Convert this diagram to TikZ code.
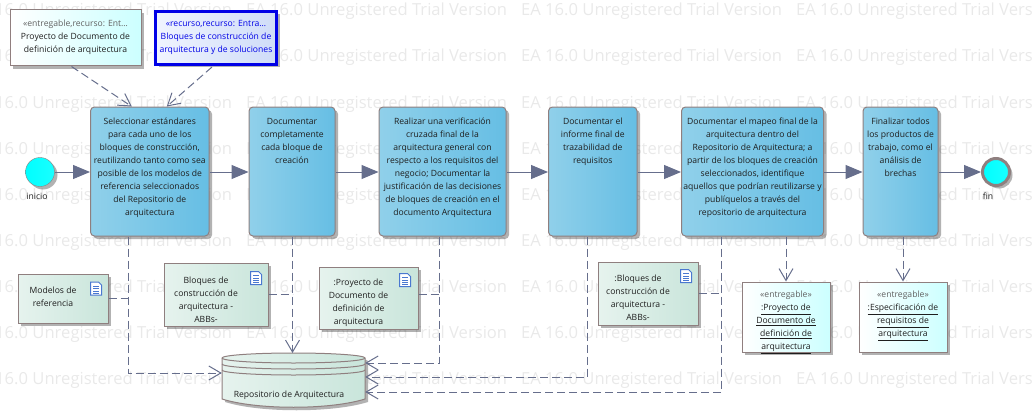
\documentclass[tikz,border=0pt]{standalone}
\usepackage{fontspec}
\setmainfont{Open Sans}
\usepackage{tikz}
\usetikzlibrary{shadows,arrows.meta,calc}
\definecolor{linecol}{HTML}{666E8C}
\definecolor{edgecol}{HTML}{8F7F7F}
\definecolor{wmcol}{HTML}{E9E9E9}
\definecolor{txtcol}{HTML}{1E1E1E}
\definecolor{actl}{HTML}{90D0EA}
\definecolor{actr}{HTML}{66BEE4}
\definecolor{notel}{HTML}{E6F3EE}
\definecolor{noter}{HTML}{C9E5DB}
\definecolor{resl}{HTML}{F0F4FE}
\definecolor{resr}{HTML}{CFDCF8}
\definecolor{resb}{HTML}{0000E6}
\definecolor{delr}{HTML}{CCFFFF}
\definecolor{iconcol}{HTML}{4A78D0}
\newcommand{\boxtxt}[4]{\parbox[c][#2pt][t]{#1pt}{\centering\fontsize{8.6}{13}\selectfont\vspace*{#3pt}#4\par}}
\newcommand{\nl}{\\\hspace*{-20pt}}
\tikzset{
shad/.style={drop shadow={shadow xshift=3pt,shadow yshift=-3pt,opacity=.3,fill=black}},
boxbase/.style={draw=edgecol, line width=1pt, inner sep=0pt, text=txtcol, shad},
act/.style={boxbase, rounded corners=4pt, left color=actl, right color=actr},
note/.style={boxbase, left color=notel, right color=noter},
deliv/.style={boxbase, left color=white, right color=delr},
res/.style={draw=resb, line width=3pt, inner sep=0pt, text=resb, left color=resl, right color=resr, shad},
ev/.style={circle, draw=edgecol, minimum size=29pt, inner sep=0pt, left color=cyan, right color=cyan!90!white, shad},
flow/.style={draw=linecol, line width=1pt, -{Triangle[length=17pt,width=14pt]}},
dep/.style={draw=linecol, line width=1pt, dash pattern=on 8pt off 4pt, -{Straight Barb[length=12pt,width=14pt]}},
link/.style={draw=linecol, line width=1pt, dash pattern=on 8pt off 4pt},
small/.style={font=\fontsize{8.6}{13}\selectfont, text=txtcol}
}
\newcommand{\docicon}[1]{%
\draw[iconcol, fill=white, line width=1pt] (#1) ++(-5.5,-6.5) -- ++(8,0) -- ++(3,3) -- ++(0,10) -- ++(-11,0) -- cycle;
\draw[iconcol, line width=.8pt] (#1) ++(-3,-2.5) -- ++(6,0) (#1) ++(-3,0) -- ++(6,0) (#1) ++(-3,2.5) -- ++(6,0) (#1) ++(-3,4.5) -- ++(6,0);}
\begin{document}
\begin{tikzpicture}[x=1pt,y=-1pt]
\useasboundingbox (0,0) rectangle (1033,420);
\foreach \r in {0,...,8}
  \foreach \c in {0,...,3}
    \node[anchor=base west, inner sep=0pt, text=wmcol, font=\fontsize{16.6}{20}\selectfont] (wm\r\c) at ({-29+275*\c},{16+46*\r}) {EA 16.0 Unregistered Trial Version};

\node[deliv] (doc1) at (75.5,38) {\boxtxt{131}{56}{10}{{\color{txtcol!70}«entregable,recurso: Ent…}\\Proyecto de Documento de\\definición de arquitectura}};
\node[res] (doc2) at (216,38) {\boxtxt{121}{53}{9}{«recurso,recurso: Entra…\\Bloques de construcción de\\arquitectura y de soluciones}};

\node[ev] (ini) at (40,172) {};
\node[small] (inilbl) at (37,196) {inicio};
\node[act] (a1) at (149.75,171.5) {\boxtxt{118.5}{129}{11}{Seleccionar estándares\\para cada uno de los\\bloques de construcción,\\reutilizando tanto como sea\\posible de los modelos de\\referencia seleccionados\\del Repositorio de\\arquitectura}};
\node[act] (a2) at (292,171.5) {\boxtxt{86}{129}{11}{Documentar\\completamente\\cada bloque de\\creación}};
\node[act] (a3) at (442.5,171.5) {\boxtxt{127}{129}{11}{Realizar una verificación\\cruzada final de la\\arquitectura general con\\respecto a los requisitos del\\negocio; Documentar la\\justificación de las decisiones\\de bloques de creación en el\\documento Arquitectura}};
\node[act] (a4) at (592.75,171.5) {\boxtxt{88.5}{129}{11}{Documentar el\\informe final de\\trazabilidad de\\requisitos}};
\node[act] (a5) at (752.5,171.5) {\boxtxt{142}{129}{11}{Documentar el mapeo final de la\\arquitectura dentro del\\Repositorio de Arquitectura; a\\partir de los bloques de creación\\seleccionados, identifique\\aquellos que podrían reutilizarse y\\publíquelos a través del\\repositorio de arquitectura}};
\node[act] (a6) at (900.5,171.5) {\boxtxt{75}{129}{11}{Finalizar todos\\los productos de\\trabajo, como el\\análisis de\\brechas}};
\node[ev, line width=3pt, minimum size=27pt] (fin) at (996,172) {};
\node[small] (finlbl) at (988,196) {fin};

\node[note] (mod) at (63,298.5) {\boxtxt{90}{49}{13}{\hspace*{-20pt}Modelos de\nl referencia}};
\node[note] (bl1) at (216,294.5) {\boxtxt{104}{63}{14}{\hspace*{-20pt}Bloques de\nl construcción de\nl arquitectura -\nl ABBs-}};
\node[note] (pro) at (368.5,298) {\boxtxt{99}{62}{12}{\hspace*{-20pt}:Proyecto de\nl Documento de\nl definición de\nl arquitectura}};
\node[note] (bl2) at (648,293.5) {\boxtxt{100}{63}{13}{\hspace*{-20pt}:Bloques de\nl construcción de\nl arquitectura -\nl ABBs-}};
\docicon{96,288.5}
\docicon{256,278}
\docicon{405,280}
\docicon{686,276}

\node[deliv] (en1) at (786,317) {\boxtxt{88}{70}{9}{{\color{txtcol!70}«entregable»}\\\underline{:Proyecto de}\\\underline{Documento de}\\\underline{definición de}\\\underline{arquitectura}}};
\node[deliv] (en2) at (903,317) {\boxtxt{88}{70}{9}{{\color{txtcol!70}«entregable»}\\\underline{:Especificación de}\\\underline{requisitos de}\\\underline{arquitectura}}};

\node[minimum width=143pt, minimum height=54pt, inner sep=0pt] (repo) at (293.5,380) {};
\fill[black, opacity=.3, xshift=3pt, yshift=-3pt] (222,358) arc[start angle=180, end angle=0, x radius=71.5, y radius=-5] -- ++(0,41) .. controls (330,410) and (257,410) .. (222,399) -- cycle;
\draw[edgecol, line width=1pt, left color=notel, right color=noter] (222,358) arc[start angle=180, end angle=0, x radius=71.5, y radius=-5] -- ++(0,41) .. controls (330,410) and (257,410) .. (222,399) -- cycle;
\draw[edgecol, line width=1pt] (222,358) arc[start angle=180, end angle=360, x radius=71.5, y radius=-5];
\draw[edgecol, line width=1pt] (222,364) arc[start angle=180, end angle=360, x radius=71.5, y radius=-5];
\draw[edgecol, line width=1pt] (222,370) arc[start angle=180, end angle=360, x radius=71.5, y radius=-5];
\node[small] (repolbl) at (289,395) {Repositorio de Arquitectura};

\coordinate (j1) at (128,373);
\coordinate (j2) at (292.5,353);
\coordinate (j3) at (439,363);
\coordinate (j4) at (587,377);
\coordinate (j5) at (721.5,392);
\coordinate (pl) at ($(pro.east)+(0,-4)$);

\draw[flow] (ini) -- (a1.west |- ini);
\draw[flow] (a1.east |- ini) -- (a2.west |- ini);
\draw[flow] (a2.east |- ini) -- (a3.west |- ini);
\draw[flow] (a3.east |- ini) -- (a4.west |- ini);
\draw[flow] (a4.east |- ini) -- (a5.west |- ini);
\draw[flow] (a5.east |- ini) -- (a6.west |- ini);
\draw[flow] (a6.east |- ini) -- (fin);

\draw[dep] ($(doc1.south)+(-4,0)$) -- ($(a1.north)+(-18,0)$);
\draw[dep] ($(doc2.south)+(-4,1)$) -- ($(a1.north)+(17,0)$);
\draw[dep] (a1.south -| j1) -- (j1) -- (repo.west |- j1);
\draw[dep] (a2.south -| j2) -- (j2);
\draw[dep] (a3.south -| j3) -- (j3) -- (repo.east |- j3);
\draw[dep] (a4.south -| j4) -- (j4) -- (repo.east |- j4);
\draw[dep] (a5.south -| j5) -- (j5) -- (repo.east |- j5);
\draw[dep] (a5.south -| en1) -- (en1.north);
\draw[dep] (a6.south -| en2) -- (en2.north);
\draw[link] (mod.east) -- (mod.east -| j1);
\draw[link] (bl1.east) -- (bl1.east -| j2);
\draw[link] (pl) -- (pl -| j3);
\draw[link] (bl2.east) -- (bl2.east -| j5);
\end{tikzpicture}
\end{document}
